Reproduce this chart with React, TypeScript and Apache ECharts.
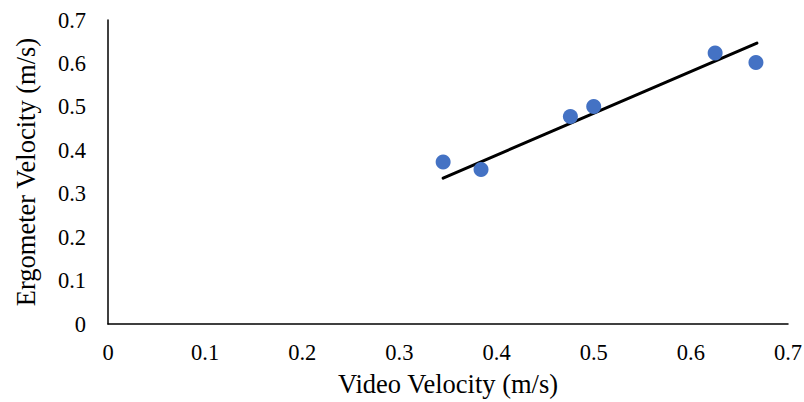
import React, { useEffect, useRef } from "react";
import * as echarts from "echarts";

const videoVelocity = [0.345, 0.384, 0.476, 0.5, 0.625, 0.667];
const ergometerVelocity = [0.373, 0.356, 0.478, 0.501, 0.624, 0.602];
const trendX = [0.345, 0.668];
const trendY = [0.336, 0.647];
const xTitle = "Video Velocity (m/s)";
const yTitle = "Ergometer Velocity (m/s)";

export default function App() {
  const ref = useRef<HTMLDivElement>(null);
  useEffect(() => {
    if (!ref.current) return;
    const chart = echarts.init(ref.current, undefined, { renderer: "svg" });
    const font = "Liberation Serif";
    const axisCommon = {
      type: "value" as const,
      min: 0,
      max: 0.7,
      interval: 0.1,
      nameLocation: "middle" as const,
      axisLine: { show: true, lineStyle: { color: "#000", width: 1.5 } },
      axisTick: { show: false },
      splitLine: { show: false },
      nameTextStyle: { fontFamily: font, fontSize: 26.5, lineHeight: 26, color: "#000" },
    };
    chart.setOption({
      animation: false,
      backgroundColor: "#fff",
      textStyle: { fontFamily: font },
      grid: { left: 108, right: 16, top: 20, bottom: 78, outerBoundsMode: "none", containLabel: false },
      xAxis: {
        ...axisCommon,
        name: xTitle,
        nameGap: 47,
        axisLabel: {
          fontFamily: font,
          fontSize: 22.5,
          color: "#000",
          margin: 17,
          formatter: (v: number) => String(Math.round(v * 10) / 10),
        },
      },
      yAxis: {
        ...axisCommon,
        name: yTitle,
        nameGap: 69,
        axisLabel: {
          fontFamily: font,
          fontSize: 22.5,
          color: "#000",
          margin: 22,
          formatter: (v: number) => String(Math.round(v * 10) / 10),
        },
      },
      series: [
        {
          type: "line",
          data: trendX.map((x, i) => [x, trendY[i]]),
          showSymbol: false,
          symbol: "none",
          lineStyle: { color: "#000", width: 3, cap: "round" },
          z: 2,
        },
        {
          type: "scatter",
          data: videoVelocity.map((x, i) => [x, ergometerVelocity[i]]),
          symbol: "circle",
          symbolSize: 15,
          itemStyle: { color: "#4472C4", opacity: 1 },
          z: 3,
        },
      ],
    });
    return () => chart.dispose();
  }, []);
  return (
    <div style={{ position: "fixed", left: 0, top: 0, width: 804, height: 402, overflow: "hidden", background: "#fff" }}>
      <div ref={ref} style={{ width: 804, height: 402 }} />
    </div>
  );
}
